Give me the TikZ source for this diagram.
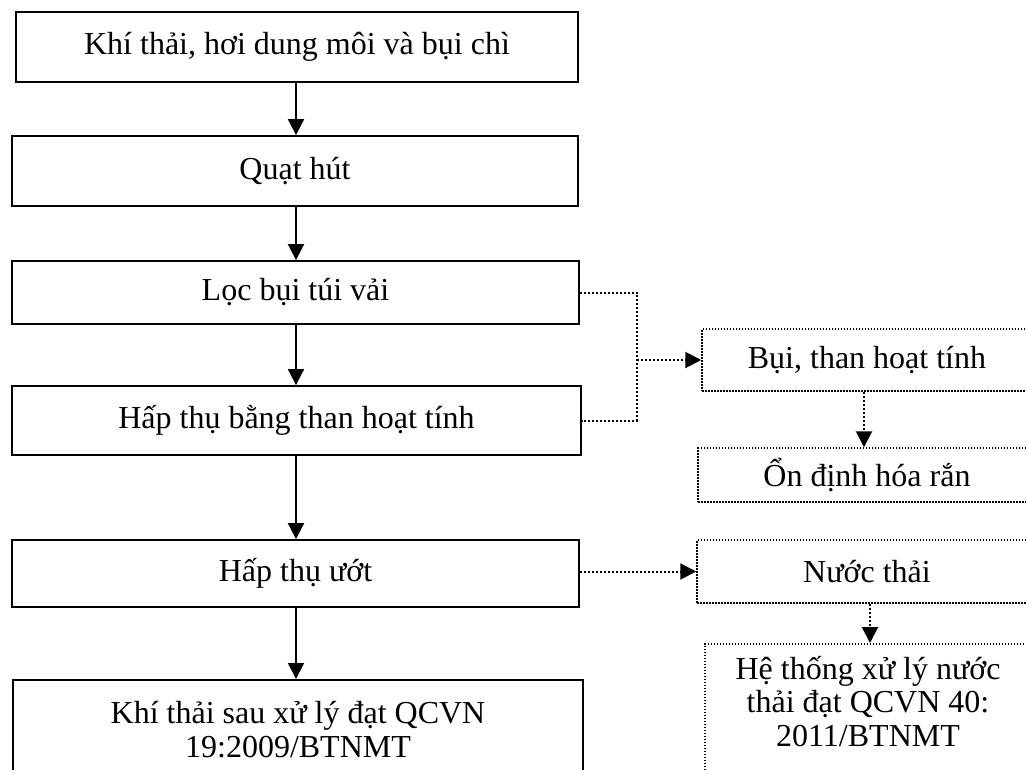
\documentclass[tikz,border=0pt]{standalone}
\usepackage{fontspec}
\setmainfont{Liberation Serif}
\usetikzlibrary{arrows.meta}
\begin{document}
\begin{tikzpicture}[x=1pt,y=-1pt,
  txt/.style={font=\fontsize{32}{33.5}\selectfont, align=center},
  solidbox/.style={txt, draw, line width=1.8pt, inner sep=0pt},
  dotbox/.style={txt, draw, line width=1.5pt, dash pattern=on 1.5pt off 1.5pt, inner sep=0pt},
  textonly/.style={txt, inner sep=0pt},
  flow/.style={line width=1.8pt, -{Triangle[length=16pt,width=16pt]}},
  dotline/.style={line width=2pt, dash pattern=on 2pt off 2pt},
  dotflow/.style={dotline, -{Triangle[length=16pt,width=16pt]}},
]
\useasboundingbox (0,0) rectangle (1026,769);
\clip (0,0) rectangle (1026,769);

% main treatment line
\node[solidbox, minimum width=562pt, minimum height=70pt] (b1) at (297,47)
  {Khí thải, hơi dung môi và bụi chì};
\node[solidbox, minimum width=566pt, minimum height=70pt] (b2) at (295,171)
  {Quạt hút};
\node[solidbox, minimum width=567pt, minimum height=63pt] (b3) at (295.5,292.5)
  {Lọc bụi túi vải};
\node[solidbox, minimum width=569pt, minimum height=69pt] (b4) at (296.5,420.5)
  {Hấp thụ bằng than hoạt tính};
\node[solidbox, minimum width=567pt, minimum height=67pt] (b5) at (295.5,573.5)
  {Hấp thụ ướt};
\node[solidbox, minimum width=570pt, minimum height=99pt, anchor=north] (b6) at (298,679)
  {Khí thải sau xử lý đạt QCVN\\19:2009/BTNMT};

% side streams
\node[dotbox, minimum width=330pt, minimum height=62pt] (r1) at (867,360)
  {Bụi, than hoạt tính};
\node[dotbox, minimum width=338pt, minimum height=54pt] (r2) at (867,475)
  {Ổn định hóa rắn};
\node[dotbox, minimum width=340pt, minimum height=63pt] (r3) at (867,571.5)
  {Nước thải};
\node[dotbox, minimum width=326pt, minimum height=150pt, anchor=north] (r4) at (868,643) {};
\node[textonly] (r4t) at (868,701.5)
  {Hệ thống xử lý nước\\thải đạt QCVN 40:\\2011/BTNMT};

% helper columns for straight vertical connectors
\coordinate (ax) at (296,0);
\coordinate (jx) at (637,0);
\coordinate (rx1) at (864,0);
\coordinate (rx2) at (870,0);

% solid flow arrows
\draw[flow] (b1.south -| ax) -- (b2.north -| ax);
\draw[flow] (b2.south -| ax) -- (b3.north -| ax);
\draw[flow] (b3.south -| ax) -- (b4.north -| ax);
\draw[flow] (b4.south -| ax) -- (b5.north -| ax);
\draw[flow] (b5.south -| ax) -- (b6.north -| ax);

% dotted side connectors
\draw[dotline] (b3.east) -| (jx |- b4.east) -- (b4.east);
\draw[dotflow] (jx |- r1.west) -- (r1.west);
\draw[dotflow] (r1.south -| rx1) -- (r2.north -| rx1);
\draw[dotflow] (b5.east |- r3.west) -- (r3.west);
\draw[dotflow] (r3.south -| rx2) -- (r4.north -| rx2);
\end{tikzpicture}
\end{document}
